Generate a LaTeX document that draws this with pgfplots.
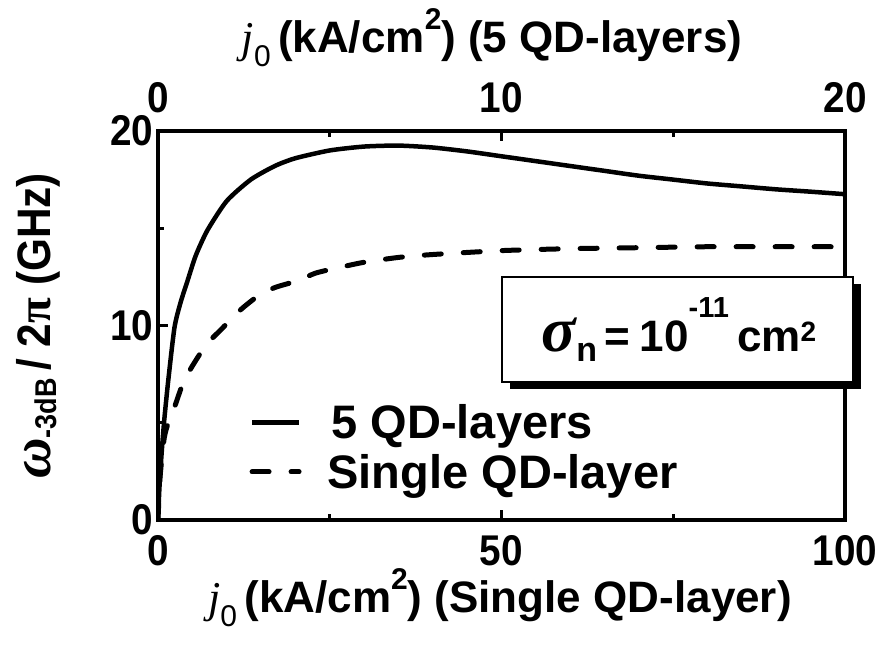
\documentclass[border=0pt]{standalone}
\usepackage{fontspec}
\setmainfont{Liberation Sans}
\newfontfamily\serif{Liberation Serif}
\newfontfamily\narrow{Liberation Sans}[FakeStretch=0.9]
\usepackage{pgfplots}
\pgfplotsset{compat=1.18}
\usetikzlibrary{shadows}

% 3 dB bandwidth versus injection current density
\pgfplotstableread{
j w
0     0
0.2   1.6
0.5   3.3
0.9   5.1
1.5   7.2
2.4   9.9
3.3   11.2
4.3   12.3
5.5   13.6
7.2   14.9
10    16.4
13.5  17.5
17    18.2
20    18.6
25    19.0
30    19.2
35    19.25
40    19.15
45    18.95
50    18.7
55    18.45
60    18.2
65    17.95
70    17.7
75    17.5
80    17.3
85    17.15
90    17.0
95    16.88
100   16.75
}\fivelayers

\pgfplotstableread{
j w
0     0
0.3   2.2
0.9   4.2
1.5   5.0
2.4   5.8
3.5   6.9
4.8   7.8
7     9.0
9.2   9.8
12    10.8
14.5  11.5
17    11.95
20.3  12.3
23    12.7
26.6  13.0
30    13.25
35    13.5
40    13.65
50    13.85
60    13.95
70    14.0
80    14.05
90    14.05
100   14.05
}\singlelayer

\newcommand\labelfont{\fontsize{44}{52}\selectfont\bfseries}
\newcommand\legendfont{\fontsize{47}{54}\selectfont\bfseries}
\newcommand\tickfont{\narrow\fontsize{43}{48}\selectfont\bfseries}
% current density symbol j_0 with a deep subscript
\newcommand\jzero{{\serif\mdseries\itshape j}\raisebox{-14pt}{\fontsize{30}{30}\selectfont\mdseries 0}}
\newcommand\sqsup{\raisebox{23pt}{\fontsize{30}{30}\selectfont 2}}

\begin{document}
\begin{tikzpicture}[x=1pt,y=1pt]
\useasboundingbox (0,0) rectangle (881,651);
\begin{axis}[
  at={(158pt,131pt)}, anchor=south west,
  scale only axis, width=687pt, height=389pt,
  xmin=0, xmax=100, ymin=0, ymax=20,
  xtick={0,50,100}, xticklabels={0,50,100},
  minor xtick={25,75},
  ytick={0,10,20}, yticklabels={0,10,20},
  minor ytick={5,15},
  xtick pos=both, xticklabel pos=lower,
  ytick pos=left,
  tick align=inside,
  major tick length=10pt, minor tick length=6pt,
  every tick/.style={black, line width=3pt},
  axis line style={line width=4.5pt},
  ticklabel style={font=\tickfont},
  xticklabel style={yshift=-12pt},
  yticklabel style={xshift=-1pt},
  legend style={at={(axis cs:13.3,6.05)}, anchor=north west,
    draw=none, fill=none, inner sep=0pt, row sep=10pt,
    font=\legendfont, cells={anchor=west}},
  legend image code/.code={\draw[#1] (0pt,0pt) -- (47pt,0pt);},
  legend cell align=left,
]
\addplot[black, line width=4.5pt, smooth, tension=0.4] table[x=j,y=w] {\fivelayers};
\addlegendentry{\hspace{28pt}5 QD-layers}
\addplot[black, line width=5pt, line cap=round, dash pattern=on 17pt off 22pt, smooth, tension=0.4] table[x=j,y=w] {\singlelayer};
\addlegendentry{\hspace{24pt}Single QD-layer}
\end{axis}

% upper scale for the five-layer structure
\begin{axis}[
  at={(158pt,131pt)}, anchor=south west,
  scale only axis, width=687pt, height=389pt,
  xmin=0, xmax=20, ymin=0, ymax=20,
  hide y axis,
  axis line style={draw=none},
  tick style={draw=none},
  xtick={0,10,20}, xticklabels={0,10,20},
  xticklabel pos=right,
  ticklabel style={font=\tickfont},
  xticklabel style={yshift=15pt},
]
\end{axis}

\node[font=\labelfont] at (500,53) {\jzero\,(kA/cm\sqsup) (Single QD-layer)};
\node[font=\labelfont] at (492,613) {\jzero\,(kA/cm\sqsup) (5 QD-layers)};
\node[font=\narrow\fontsize{47}{52}\selectfont\bfseries, rotate=90] at (38,325)
  {{\serif\itshape\fontsize{56}{56}\selectfont ω}\raisebox{-6pt}{\fontsize{30}{30}\selectfont -3dB}\,/ 2{\serif π} (GHz)};

% parameter box with its drop shadow
\node[draw=black, line width=1.5pt, fill=white, minimum width=351pt, minimum height=105pt,
  drop shadow={shadow xshift=8pt, shadow yshift=-7pt, fill=black, opacity=1}] at (677.5,321.5) {};
\node[anchor=base, font=\fontsize{44}{48}\selectfont\bfseries] at (679,299)
  {{\serif\itshape\fontsize{64}{64}\selectfont σ}\raisebox{-10pt}{\fontsize{34}{34}\selectfont n}\hspace{7pt}=\hspace{10pt}10\raisebox{34pt}{\fontsize{29}{29}\selectfont -11}\hspace{8pt}cm\raisebox{10pt}{\fontsize{28}{28}\selectfont 2}};
\end{tikzpicture}
\end{document}
